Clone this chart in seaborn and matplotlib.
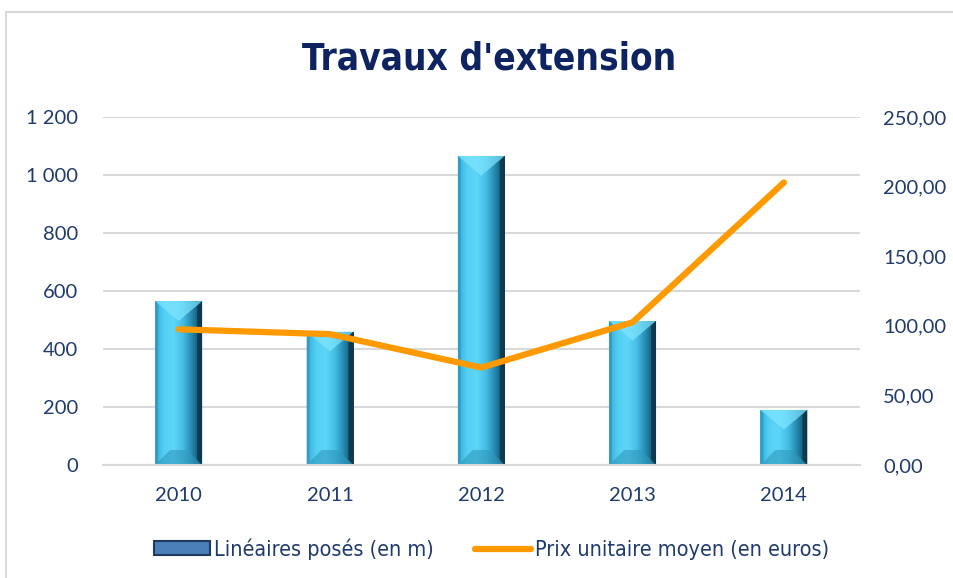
import matplotlib
matplotlib.use("Agg")
import matplotlib.pyplot as plt
import numpy as np
import pandas as pd
import seaborn as sns
from matplotlib.patches import Polygon, Rectangle
from matplotlib.colors import LinearSegmentedColormap
from matplotlib.ticker import FuncFormatter, MultipleLocator

# data
years = ["2010", "2011", "2012", "2013", "2014"]
lineaires = [565, 460, 1066, 497, 190]          # Linéaires posés (en m)
prix = [97.5, 94.0, 70.0, 102.5, 203.0]         # Prix unitaire moyen (en euros)

NAVY = "#1F3A6E"
TITLE_NAVY = "#0E2461"
GRID = "#D9D9D9"
ORANGE = "#FF9900"

sns.set_theme(style="white")
plt.rcParams['font.family'] = ['Lato', 'DejaVu Sans']

df = pd.DataFrame({"annee": years, "lineaires": lineaires, "prix": prix})
df["pos"] = np.arange(len(df))

fig = plt.figure(figsize=(9.54, 5.78), dpi=100)
ax = fig.add_axes([0.108, 0.1955, 0.793, 0.602])

sns.barplot(data=df, x="annee", y="lineaires", color="#4CC6EC", width=0.31,
            saturation=1, ax=ax, zorder=2)

ax.set_xlim(-0.5, 4.5)
ax.set_ylim(0, 1200)

# pixel -> data conversion for the bevel shapes
px_x = 5 / 757.0
px_y = 1200 / 348.0

grad = LinearSegmentedColormap.from_list(
    "bar", ["#38B0DA", "#55CFF4", "#5DD6F8", "#45BDE4", "#2384AB", "#12445C"])
for p in list(ax.patches):
    x0, w, h = p.get_x(), p.get_width(), p.get_height()
    img = np.linspace(0, 1, 256).reshape(1, -1)
    im = ax.imshow(img, cmap=grad, aspect="auto", extent=[x0, x0 + w, 0, h],
                   zorder=2.1)
    im.set_clip_path(p)
    bev = 15
    # top facet (light V)
    apex = min(0.42 * w / px_x, h / px_y * 0.5)
    ax.add_patch(Polygon([(x0, h), (x0 + w, h), (x0 + w / 2, h - apex * px_y)],
                         closed=True, fc="#7FE6FF", ec="none", alpha=0.7, zorder=2.2))
    # bottom facet
    bb = min(bev, h / px_y * 0.4)
    ax.add_patch(Polygon([(x0, 0), (x0 + w, 0), (x0 + w - bb * px_x, bb * px_y),
                          (x0 + bb * px_x, bb * px_y)],
                         closed=True, fc="#3098BD", ec="none", alpha=0.6, zorder=2.2))
    # right dark side
    s = 5
    ax.add_patch(Polygon([(x0 + w, 0), (x0 + w, h), (x0 + w - s * px_x, h - s * px_y),
                          (x0 + w - s * px_x, s * px_y)],
                         closed=True, fc="#0E3346", ec="none", alpha=0.8, zorder=2.3))
    # left light side
    s = 3
    ax.add_patch(Polygon([(x0, 0), (x0, h), (x0 + s * px_x, h - s * px_y),
                          (x0 + s * px_x, s * px_y)],
                         closed=True, fc="#2A8DB5", ec="none", alpha=0.6, zorder=2.3))
    p.set_edgecolor("none")

ax.yaxis.set_major_locator(MultipleLocator(200))
ax.yaxis.set_major_formatter(FuncFormatter(lambda v, _: f"{int(v):,}".replace(",", " ")))
ax.grid(axis="y", color=GRID, linewidth=1.5, zorder=0)
ax.set_axisbelow(True)
for side in ["left", "right", "top"]:
    ax.spines[side].set_visible(False)
ax.spines["bottom"].set_color(GRID)
ax.spines["bottom"].set_linewidth(1.5)
ax.tick_params(axis="both", length=0, labelsize=14.5, labelcolor=NAVY)
ax.tick_params(axis="y", pad=18)
ax.tick_params(axis="x", pad=16)
ax.set_xlabel("")
ax.set_ylabel("")

ax2 = ax.twinx()
sns.lineplot(data=df, x="pos", y="prix", color=ORANGE, linewidth=4.5,
             solid_capstyle="round", ax=ax2, zorder=3)
ax2.set_xlim(-0.5, 4.5)
ax2.set_ylim(0, 250)
ax2.yaxis.set_major_locator(MultipleLocator(50))
ax2.yaxis.set_major_formatter(FuncFormatter(lambda v, _: f"{v:.2f}".replace(".", ",")))
ax2.tick_params(axis="y", length=0, labelsize=14.5, labelcolor=NAVY, pad=17)
for side in ax2.spines:
    ax2.spines[side].set_visible(False)
ax2.set_ylabel("")
ax2.set_xlabel("")
ax2.grid(False)

fig.text(0.5126, 0.898, "Travaux d'extension", ha="center", va="center",
         fontsize=26.5, fontweight="bold", color=TITLE_NAVY,
         family="DejaVu Sans", fontstretch="condensed")

bar_handle = Rectangle((0, 0), 1, 1, fc="#4A7FB8", ec="#1E3A5F", lw=1.5)
line_handle = plt.Line2D([], [], color=ORANGE, lw=4.5, solid_capstyle="round")
fig.legend([bar_handle, line_handle],
           ["Linéaires posés (en m)", "Prix unitaire moyen (en euros)"],
           loc="center", bbox_to_anchor=(0.515, 0.05), ncol=2, frameon=False,
           handlelength=2.6, handleheight=0.6, handletextpad=0.2, columnspacing=1.9,
           prop={"family": "DejaVu Sans", "stretch": "condensed", "size": 15.5},
           labelcolor=NAVY)

# outer chart frame
fig.patches.append(Rectangle((6 / 954, -0.1), 1.0, (566 / 578) + 0.1,
                             transform=fig.transFigure, fill=False,
                             ec=GRID, lw=1.5))

fig.savefig("out.png", dpi=100, facecolor="white")
